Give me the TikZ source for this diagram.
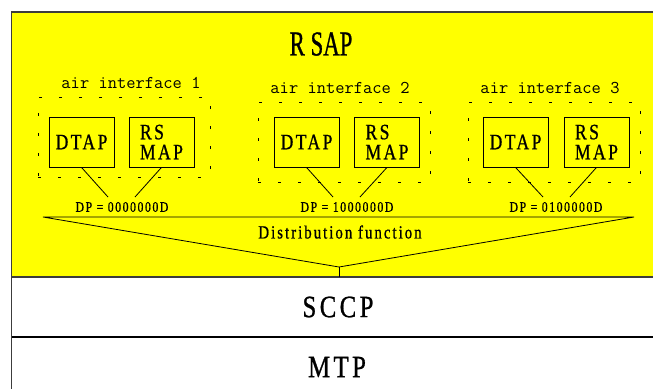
\documentclass[tikz,border=0pt]{standalone}
\usepackage{fontspec}
\setmainfont{Liberation Serif}
\newfontfamily\cf[FakeStretch=0.8,LetterSpace=11,FakeBold=0.8]{Liberation Serif}
\newfontfamily\rf[FakeStretch=0.65,FakeBold=0.8]{Liberation Serif}
\definecolor{ylw}{RGB}{255,255,0}
\definecolor{bord}{RGB}{60,60,60}
\begin{document}
\begin{tikzpicture}[x=1pt,y=-1pt,
  box/.style={draw, line width=0.8pt, minimum width=65pt, minimum height=50pt, inner sep=0pt, align=left,
    font=\cf\fontsize{22}{20}\selectfont},
  grp/.style={draw, dash pattern=on 3pt off 17pt, line width=0.9pt, minimum width=172pt, minimum height=80pt, inner sep=0pt},
  ailbl/.style={font=\ttfamily\fontsize{18}{18}\selectfont, inner sep=0pt},
  dplbl/.style={font=\cf\fontsize{14.6}{15}\selectfont, inner sep=0pt},
  wire/.style={line width=0.8pt},
  layer/.style={font=\cf\fontsize{31}{32}\selectfont, inner sep=0pt}]
\useasboundingbox (0,0) rectangle (653,389);
\fill[white] (0,0) rectangle (653,389);
\fill[ylw] (11.5,12) rectangle (653,277);
\draw[bord, line width=1.3pt] (653,12) -- (11.5,12) -- (11.5,389);
\draw[bord, line width=1.5pt] (11.5,277) -- (653,277);
\draw[black, line width=1.5pt] (11.5,337) -- (653,337);

\node[font=\rf\fontsize{35}{36}\selectfont, inner sep=0pt] (rsap) at (321,44) {R\,SAP};

\node[ailbl] (ai1) at (131,83) {air interface 1};
\node[ailbl] (ai2) at (340,88) {air interface 2};
\node[ailbl] (ai3) at (550,88) {air interface 3};

\node[grp] (g1) at (124,137) {};
\node[grp] (g2) at (344,142) {};
\node[grp] (g3) at (554,142) {};

\node[box] (d1) at (81.5,142) {DTAP};
\node[box] (r1) at (161.5,142) {RS\\MAP};
\node[box] (d2) at (306.5,142) {DTAP};
\node[box] (r2) at (387,142) {RS\\MAP};
\node[box] (d3) at (515.5,142) {DTAP};
\node[box] (r3) at (596.5,142) {RS\\MAP};

\node[dplbl] (dp1) at (122,207) {DP = 0000000D};
\node[dplbl] (dp2) at (347,207) {DP = 1000000D};
\node[dplbl] (dp3) at (556,207) {DP = 0100000D};

\coordinate (e1) at (108,197); \coordinate (f1) at (135,197);
\coordinate (e2) at (333,197); \coordinate (f2) at (360,197);
\coordinate (e3) at (543,197); \coordinate (f3) at (570,197);
\draw[wire] (d1.south) -- (e1);
\draw[wire] (r1.south) -- (f1);
\draw[wire] (d2.south) -- (e2);
\draw[wire] (r2.south) -- (f2);
\draw[wire] (d3.south) -- (e3);
\draw[wire] (r3.south) -- (f3);

\coordinate (tl) at (43,217);
\coordinate (tr) at (634,217);
\coordinate (apex) at (339,267);
\coordinate (base) at (339,277);
\draw[wire] (tl) -- (tr) -- (apex) -- cycle;
\draw[wire] (apex) -- (base);
\node[font=\cf\fontsize{18.5}{19}\selectfont, inner sep=0pt] (df) at (340,232) {Distribution function};

\node[layer] (sccp) at (338,307) {SCCP};
\node[layer] (mtp) at (337,367) {MTP};
\end{tikzpicture}
\end{document}
